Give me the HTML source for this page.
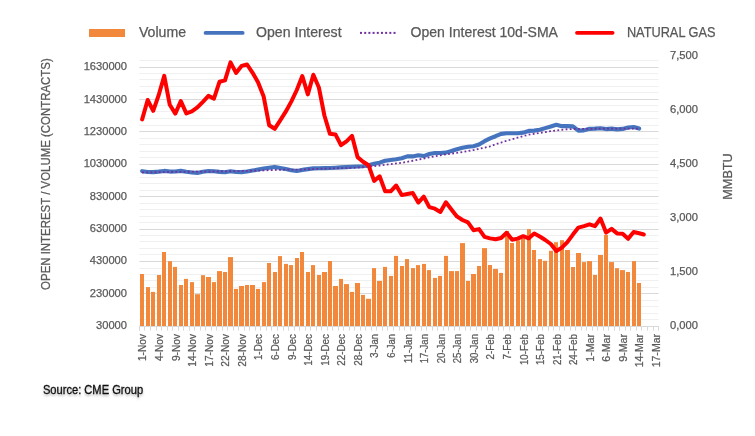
<!DOCTYPE html><html><head><meta charset="utf-8"><style>html,body{margin:0;padding:0;background:#fff;overflow:hidden;width:755px;height:436px;}svg{display:block;}text{font-family:"Liberation Sans", sans-serif;stroke:#595959;stroke-width:0.25px;}svg{will-change:transform;}</style></head><body>
<svg width="755" height="436" viewBox="0 0 755 436">
<defs><filter id="sh" x="-10%" y="-40%" width="120%" height="200%"><feDropShadow dx="0" dy="1.8" stdDeviation="1.3" flood-color="#000" flood-opacity="0.28"/></filter></defs>
<rect width="755" height="436" fill="#fff"/>
<line x1="139.4" y1="319.50" x2="658.5" y2="319.50" stroke="#F0F0F0" stroke-width="1"/>
<line x1="139.4" y1="313.50" x2="658.5" y2="313.50" stroke="#F0F0F0" stroke-width="1"/>
<line x1="139.4" y1="306.50" x2="658.5" y2="306.50" stroke="#F0F0F0" stroke-width="1"/>
<line x1="139.4" y1="300.50" x2="658.5" y2="300.50" stroke="#F0F0F0" stroke-width="1"/>
<line x1="139.4" y1="293.50" x2="658.5" y2="293.50" stroke="#D9D9D9" stroke-width="1"/>
<line x1="139.4" y1="287.50" x2="658.5" y2="287.50" stroke="#F0F0F0" stroke-width="1"/>
<line x1="139.4" y1="280.50" x2="658.5" y2="280.50" stroke="#F0F0F0" stroke-width="1"/>
<line x1="139.4" y1="274.50" x2="658.5" y2="274.50" stroke="#F0F0F0" stroke-width="1"/>
<line x1="139.4" y1="268.50" x2="658.5" y2="268.50" stroke="#F0F0F0" stroke-width="1"/>
<line x1="139.4" y1="261.50" x2="658.5" y2="261.50" stroke="#D9D9D9" stroke-width="1"/>
<line x1="139.4" y1="254.50" x2="658.5" y2="254.50" stroke="#F0F0F0" stroke-width="1"/>
<line x1="139.4" y1="248.50" x2="658.5" y2="248.50" stroke="#F0F0F0" stroke-width="1"/>
<line x1="139.4" y1="241.50" x2="658.5" y2="241.50" stroke="#F0F0F0" stroke-width="1"/>
<line x1="139.4" y1="235.50" x2="658.5" y2="235.50" stroke="#F0F0F0" stroke-width="1"/>
<line x1="139.4" y1="229.50" x2="658.5" y2="229.50" stroke="#D9D9D9" stroke-width="1"/>
<line x1="139.4" y1="222.50" x2="658.5" y2="222.50" stroke="#F0F0F0" stroke-width="1"/>
<line x1="139.4" y1="216.50" x2="658.5" y2="216.50" stroke="#F0F0F0" stroke-width="1"/>
<line x1="139.4" y1="209.50" x2="658.5" y2="209.50" stroke="#F0F0F0" stroke-width="1"/>
<line x1="139.4" y1="203.50" x2="658.5" y2="203.50" stroke="#F0F0F0" stroke-width="1"/>
<line x1="139.4" y1="196.50" x2="658.5" y2="196.50" stroke="#D9D9D9" stroke-width="1"/>
<line x1="139.4" y1="190.50" x2="658.5" y2="190.50" stroke="#F0F0F0" stroke-width="1"/>
<line x1="139.4" y1="183.50" x2="658.5" y2="183.50" stroke="#F0F0F0" stroke-width="1"/>
<line x1="139.4" y1="177.50" x2="658.5" y2="177.50" stroke="#F0F0F0" stroke-width="1"/>
<line x1="139.4" y1="170.50" x2="658.5" y2="170.50" stroke="#F0F0F0" stroke-width="1"/>
<line x1="139.4" y1="164.50" x2="658.5" y2="164.50" stroke="#D9D9D9" stroke-width="1"/>
<line x1="139.4" y1="157.50" x2="658.5" y2="157.50" stroke="#F0F0F0" stroke-width="1"/>
<line x1="139.4" y1="151.50" x2="658.5" y2="151.50" stroke="#F0F0F0" stroke-width="1"/>
<line x1="139.4" y1="144.50" x2="658.5" y2="144.50" stroke="#F0F0F0" stroke-width="1"/>
<line x1="139.4" y1="138.50" x2="658.5" y2="138.50" stroke="#F0F0F0" stroke-width="1"/>
<line x1="139.4" y1="131.50" x2="658.5" y2="131.50" stroke="#D9D9D9" stroke-width="1"/>
<line x1="139.4" y1="125.50" x2="658.5" y2="125.50" stroke="#F0F0F0" stroke-width="1"/>
<line x1="139.4" y1="118.50" x2="658.5" y2="118.50" stroke="#F0F0F0" stroke-width="1"/>
<line x1="139.4" y1="111.50" x2="658.5" y2="111.50" stroke="#F0F0F0" stroke-width="1"/>
<line x1="139.4" y1="105.50" x2="658.5" y2="105.50" stroke="#F0F0F0" stroke-width="1"/>
<line x1="139.4" y1="99.50" x2="658.5" y2="99.50" stroke="#D9D9D9" stroke-width="1"/>
<line x1="139.4" y1="92.50" x2="658.5" y2="92.50" stroke="#F0F0F0" stroke-width="1"/>
<line x1="139.4" y1="86.50" x2="658.5" y2="86.50" stroke="#F0F0F0" stroke-width="1"/>
<line x1="139.4" y1="79.50" x2="658.5" y2="79.50" stroke="#F0F0F0" stroke-width="1"/>
<line x1="139.4" y1="73.50" x2="658.5" y2="73.50" stroke="#F0F0F0" stroke-width="1"/>
<line x1="139.4" y1="67.50" x2="658.5" y2="67.50" stroke="#D9D9D9" stroke-width="1"/>
<line x1="139.4" y1="60.50" x2="658.5" y2="60.50" stroke="#F0F0F0" stroke-width="1"/>
<rect x="140" y="274.00" width="4" height="52.00" fill="#F1883B"/>
<rect x="146" y="287.10" width="4" height="38.90" fill="#F1883B"/>
<rect x="151" y="291.90" width="4" height="34.10" fill="#F1883B"/>
<rect x="157" y="275.00" width="4" height="51.00" fill="#F1883B"/>
<rect x="162" y="252.00" width="4" height="74.00" fill="#F1883B"/>
<rect x="168" y="261.20" width="4" height="64.80" fill="#F1883B"/>
<rect x="173" y="266.90" width="4" height="59.10" fill="#F1883B"/>
<rect x="179" y="285.00" width="4" height="41.00" fill="#F1883B"/>
<rect x="184" y="278.90" width="4" height="47.10" fill="#F1883B"/>
<rect x="190" y="282.10" width="4" height="43.90" fill="#F1883B"/>
<rect x="195" y="294.20" width="5" height="31.80" fill="#F1883B"/>
<rect x="201" y="275.20" width="4" height="50.80" fill="#F1883B"/>
<rect x="206" y="277.00" width="5" height="49.00" fill="#F1883B"/>
<rect x="212" y="282.10" width="4" height="43.90" fill="#F1883B"/>
<rect x="217" y="271.10" width="5" height="54.90" fill="#F1883B"/>
<rect x="223" y="272.00" width="4" height="54.00" fill="#F1883B"/>
<rect x="228" y="257.10" width="5" height="68.90" fill="#F1883B"/>
<rect x="234" y="288.90" width="4" height="37.10" fill="#F1883B"/>
<rect x="239" y="286.00" width="5" height="40.00" fill="#F1883B"/>
<rect x="245" y="285.00" width="4" height="41.00" fill="#F1883B"/>
<rect x="250" y="285.00" width="5" height="41.00" fill="#F1883B"/>
<rect x="256" y="288.90" width="4" height="37.10" fill="#F1883B"/>
<rect x="262" y="282.10" width="4" height="43.90" fill="#F1883B"/>
<rect x="267" y="263.00" width="4" height="63.00" fill="#F1883B"/>
<rect x="273" y="272.00" width="4" height="54.00" fill="#F1883B"/>
<rect x="278" y="256.10" width="4" height="69.90" fill="#F1883B"/>
<rect x="284" y="263.90" width="4" height="62.10" fill="#F1883B"/>
<rect x="289" y="265.10" width="4" height="60.90" fill="#F1883B"/>
<rect x="295" y="258.00" width="4" height="68.00" fill="#F1883B"/>
<rect x="300" y="252.00" width="4" height="74.00" fill="#F1883B"/>
<rect x="306" y="272.00" width="4" height="54.00" fill="#F1883B"/>
<rect x="311" y="265.10" width="4" height="60.90" fill="#F1883B"/>
<rect x="317" y="275.00" width="4" height="51.00" fill="#F1883B"/>
<rect x="322" y="272.00" width="5" height="54.00" fill="#F1883B"/>
<rect x="328" y="261.00" width="4" height="65.00" fill="#F1883B"/>
<rect x="333" y="286.00" width="5" height="40.00" fill="#F1883B"/>
<rect x="339" y="278.90" width="4" height="47.10" fill="#F1883B"/>
<rect x="344" y="284.10" width="5" height="41.90" fill="#F1883B"/>
<rect x="350" y="291.90" width="4" height="34.10" fill="#F1883B"/>
<rect x="355" y="283.00" width="5" height="43.00" fill="#F1883B"/>
<rect x="361" y="294.90" width="4" height="31.10" fill="#F1883B"/>
<rect x="366" y="298.80" width="5" height="27.20" fill="#F1883B"/>
<rect x="372" y="268.10" width="4" height="57.90" fill="#F1883B"/>
<rect x="377" y="280.90" width="5" height="45.10" fill="#F1883B"/>
<rect x="383" y="266.90" width="4" height="59.10" fill="#F1883B"/>
<rect x="389" y="275.90" width="4" height="50.10" fill="#F1883B"/>
<rect x="394" y="255.90" width="4" height="70.10" fill="#F1883B"/>
<rect x="400" y="266.00" width="4" height="60.00" fill="#F1883B"/>
<rect x="405" y="259.10" width="4" height="66.90" fill="#F1883B"/>
<rect x="411" y="268.10" width="4" height="57.90" fill="#F1883B"/>
<rect x="416" y="265.10" width="4" height="60.90" fill="#F1883B"/>
<rect x="422" y="263.90" width="4" height="62.10" fill="#F1883B"/>
<rect x="427" y="270.10" width="4" height="55.90" fill="#F1883B"/>
<rect x="433" y="277.90" width="4" height="48.10" fill="#F1883B"/>
<rect x="438" y="275.90" width="4" height="50.10" fill="#F1883B"/>
<rect x="444" y="255.90" width="4" height="70.10" fill="#F1883B"/>
<rect x="449" y="271.10" width="5" height="54.90" fill="#F1883B"/>
<rect x="455" y="271.10" width="4" height="54.90" fill="#F1883B"/>
<rect x="460" y="243.10" width="5" height="82.90" fill="#F1883B"/>
<rect x="466" y="280.90" width="4" height="45.10" fill="#F1883B"/>
<rect x="471" y="274.00" width="5" height="52.00" fill="#F1883B"/>
<rect x="477" y="266.00" width="4" height="60.00" fill="#F1883B"/>
<rect x="482" y="248.10" width="5" height="77.90" fill="#F1883B"/>
<rect x="488" y="265.00" width="4" height="61.00" fill="#F1883B"/>
<rect x="493" y="268.90" width="5" height="57.10" fill="#F1883B"/>
<rect x="499" y="272.90" width="4" height="53.10" fill="#F1883B"/>
<rect x="505" y="230.90" width="4" height="95.10" fill="#F1883B"/>
<rect x="510" y="243.00" width="4" height="83.00" fill="#F1883B"/>
<rect x="516" y="240.40" width="4" height="85.60" fill="#F1883B"/>
<rect x="521" y="238.30" width="4" height="87.70" fill="#F1883B"/>
<rect x="527" y="229.10" width="4" height="96.90" fill="#F1883B"/>
<rect x="532" y="250.00" width="4" height="76.00" fill="#F1883B"/>
<rect x="538" y="259.10" width="4" height="66.90" fill="#F1883B"/>
<rect x="543" y="260.80" width="4" height="65.20" fill="#F1883B"/>
<rect x="549" y="250.80" width="4" height="75.20" fill="#F1883B"/>
<rect x="554" y="242.20" width="4" height="83.80" fill="#F1883B"/>
<rect x="560" y="240.20" width="4" height="85.80" fill="#F1883B"/>
<rect x="565" y="250.00" width="5" height="76.00" fill="#F1883B"/>
<rect x="571" y="267.00" width="4" height="59.00" fill="#F1883B"/>
<rect x="576" y="253.00" width="5" height="73.00" fill="#F1883B"/>
<rect x="582" y="262.10" width="4" height="63.90" fill="#F1883B"/>
<rect x="587" y="261.10" width="5" height="64.90" fill="#F1883B"/>
<rect x="593" y="274.90" width="4" height="51.10" fill="#F1883B"/>
<rect x="598" y="255.00" width="5" height="71.00" fill="#F1883B"/>
<rect x="604" y="235.00" width="4" height="91.00" fill="#F1883B"/>
<rect x="609" y="262.10" width="5" height="63.90" fill="#F1883B"/>
<rect x="615" y="268.20" width="4" height="57.80" fill="#F1883B"/>
<rect x="620" y="270.10" width="5" height="55.90" fill="#F1883B"/>
<rect x="626" y="272.00" width="4" height="54.00" fill="#F1883B"/>
<rect x="632" y="261.10" width="4" height="64.90" fill="#F1883B"/>
<rect x="637" y="283.00" width="4" height="43.00" fill="#F1883B"/>
<line x1="139.4" y1="326.5" x2="658.5" y2="326.5" stroke="#D9D9D9" stroke-width="1"/>
<path d="M139.5 326V330.6M144.5 326V330.6M150.5 326V330.6M156.5 326V330.6M161.5 326V330.6M167.5 326V330.6M172.5 326V330.6M178.5 326V330.6M183.5 326V330.6M189.5 326V330.6M194.5 326V330.6M200.5 326V330.6M205.5 326V330.6M211.5 326V330.6M216.5 326V330.6M222.5 326V330.6M227.5 326V330.6M233.5 326V330.6M238.5 326V330.6M244.5 326V330.6M249.5 326V330.6M255.5 326V330.6M260.5 326V330.6M266.5 326V330.6M271.5 326V330.6M277.5 326V330.6M283.5 326V330.6M288.5 326V330.6M294.5 326V330.6M299.5 326V330.6M305.5 326V330.6M310.5 326V330.6M316.5 326V330.6M321.5 326V330.6M327.5 326V330.6M332.5 326V330.6M338.5 326V330.6M343.5 326V330.6M349.5 326V330.6M354.5 326V330.6M360.5 326V330.6M365.5 326V330.6M371.5 326V330.6M376.5 326V330.6M382.5 326V330.6M387.5 326V330.6M393.5 326V330.6M399.5 326V330.6M404.5 326V330.6M410.5 326V330.6M415.5 326V330.6M421.5 326V330.6M426.5 326V330.6M432.5 326V330.6M437.5 326V330.6M443.5 326V330.6M448.5 326V330.6M454.5 326V330.6M459.5 326V330.6M465.5 326V330.6M470.5 326V330.6M476.5 326V330.6M481.5 326V330.6M487.5 326V330.6M492.5 326V330.6M498.5 326V330.6M503.5 326V330.6M509.5 326V330.6M514.5 326V330.6M520.5 326V330.6M526.5 326V330.6M531.5 326V330.6M537.5 326V330.6M542.5 326V330.6M548.5 326V330.6M553.5 326V330.6M559.5 326V330.6M564.5 326V330.6M570.5 326V330.6M575.5 326V330.6M581.5 326V330.6M586.5 326V330.6M592.5 326V330.6M597.5 326V330.6M603.5 326V330.6M608.5 326V330.6M614.5 326V330.6M619.5 326V330.6M625.5 326V330.6M630.5 326V330.6M636.5 326V330.6M641.5 326V330.6M647.5 326V330.6M653.5 326V330.6M658.5 326V330.6" stroke="#D9D9D9" stroke-width="1" fill="none"/>
<polyline points="142.16,171.17 147.68,172.00 153.21,172.15 158.73,171.61 164.25,170.91 169.77,171.58 175.30,171.50 180.82,170.87 186.34,171.83 191.86,172.55 197.38,172.90 202.91,171.78 208.43,170.99 213.95,171.27 219.47,171.87 225.00,172.30 230.52,171.20 236.04,172.00 241.56,172.11 247.09,171.54 252.61,170.60 258.13,169.56 263.65,168.57 269.18,167.68 274.70,166.92 280.22,167.90 285.74,168.99 291.26,170.19 296.79,171.01 302.31,169.89 307.83,169.14 313.35,168.40 318.88,168.27 324.40,168.15 329.92,167.94 335.44,167.69 340.97,167.42 346.49,167.09 352.01,166.76 357.53,166.47 363.05,166.19 368.58,165.15 374.10,163.85 379.62,162.66 385.14,160.73 390.67,159.98 396.19,159.19 401.71,158.22 407.23,156.42 412.76,156.40 418.28,155.20 423.80,156.08 429.32,154.03 434.85,153.01 440.37,153.00 445.89,152.61 451.41,151.03 456.93,149.22 462.46,147.81 467.98,146.82 473.50,146.21 479.02,144.52 484.55,141.13 490.07,138.37 495.59,136.24 501.11,133.84 506.64,133.21 512.16,133.20 517.68,133.20 523.20,132.61 528.73,130.92 534.25,130.61 539.77,129.82 545.29,128.13 550.81,126.43 556.34,124.82 561.86,126.16 567.38,126.10 572.90,126.39 578.43,130.64 583.95,130.40 589.47,128.84 594.99,128.60 600.52,128.21 606.04,129.09 611.56,128.60 617.08,129.38 622.60,128.91 628.13,127.52 633.65,127.00 639.17,128.56" fill="none" stroke="#4673BD" stroke-width="4.1" stroke-linejoin="round" stroke-linecap="round"/>
<polyline points="142.16,172.49 147.68,172.39 153.21,172.30 158.73,172.20 164.25,172.10 169.77,172.00 175.30,171.93 180.82,171.86 186.34,171.79 191.86,171.71 197.38,171.66 202.91,171.61 208.43,171.57 213.95,171.52 219.47,171.44 225.00,171.34 230.52,171.25 236.04,171.15 241.56,171.03 247.09,170.89 252.61,170.75 258.13,170.61 263.65,170.45 269.18,170.17 274.70,169.90 280.22,169.81 285.74,169.71 291.26,169.66 296.79,169.62 302.31,169.50 307.83,169.27 313.35,169.05 318.88,168.82 324.40,168.59 329.92,168.42 335.44,168.30 340.97,168.17 346.49,168.05 352.01,167.92 357.53,167.59 363.05,167.20 368.58,166.73 374.10,166.16 379.62,165.58 385.14,164.87 390.67,164.16 396.19,163.48 401.71,162.81 407.23,161.79 412.76,160.75 418.28,159.62 423.80,158.50 429.32,157.40 434.85,156.29 440.37,155.33 445.89,154.40 451.41,153.60 456.93,152.86 462.46,152.02 467.98,151.09 473.50,150.05 479.02,148.79 484.55,147.57 490.07,146.35 495.59,144.27 501.11,142.54 506.64,140.86 512.16,139.20 517.68,137.54 523.20,136.10 528.73,134.72 534.25,133.76 539.77,132.93 545.29,132.03 550.81,131.10 556.34,130.43 561.86,129.89 567.38,129.26 572.90,128.97 578.43,128.91 583.95,128.86 589.47,128.81 594.99,128.75 600.52,128.70 606.04,128.67 611.56,128.64 617.08,128.61 622.60,128.60 628.13,128.60 633.65,128.60 639.17,128.60" fill="none" stroke="#7030A0" stroke-width="1.8" stroke-dasharray="1.8 2.35" />
<polyline points="142.16,119.40 147.68,100.00 153.21,110.80 158.73,95.00 164.25,75.90 169.77,104.80 175.30,113.60 180.82,101.10 186.34,113.40 191.86,111.40 197.38,107.40 202.91,101.80 208.43,95.90 213.95,98.60 219.47,81.80 225.00,80.40 230.52,62.30 236.04,72.90 241.56,65.90 247.09,64.50 252.61,72.80 258.13,82.50 263.65,96.50 269.18,125.30 274.70,128.80 280.22,120.30 285.74,111.70 291.26,101.60 296.79,90.00 302.31,76.10 307.83,94.40 313.35,74.80 318.88,87.50 324.40,115.50 329.92,133.80 335.44,134.40 340.97,145.20 346.49,141.30 352.01,135.80 357.53,157.10 363.05,161.70 368.58,165.30 374.10,180.90 379.62,176.30 385.14,191.30 390.67,191.30 396.19,185.50 401.71,195.10 407.23,194.00 412.76,193.00 418.28,202.60 423.80,196.70 429.32,207.10 434.85,208.70 440.37,211.90 445.89,202.30 451.41,209.50 456.93,216.40 462.46,220.00 467.98,222.40 473.50,230.20 479.02,229.10 484.55,236.90 490.07,238.40 495.59,239.30 501.11,238.00 506.64,232.80 512.16,239.70 517.68,238.60 523.20,236.20 528.73,238.30 534.25,233.50 539.77,236.50 545.29,240.00 550.81,244.00 556.34,251.00 561.86,247.60 567.38,242.10 572.90,234.60 578.43,227.60 583.95,226.10 589.47,224.30 594.99,226.20 600.52,218.50 606.04,232.60 611.56,228.90 617.08,233.40 622.60,233.70 628.13,238.80 633.65,232.00 639.17,233.20 643.80,234.50" fill="none" stroke="#FF0000" stroke-width="4" stroke-linejoin="round" stroke-linecap="round"/>
<text x="127.0" y="329.10" font-size="11.15" fill="#595959" text-anchor="end">30000</text>
<text x="127.0" y="296.75" font-size="11.15" fill="#595959" text-anchor="end">230000</text>
<text x="127.0" y="264.41" font-size="11.15" fill="#595959" text-anchor="end">430000</text>
<text x="127.0" y="232.06" font-size="11.15" fill="#595959" text-anchor="end">630000</text>
<text x="127.0" y="199.71" font-size="11.15" fill="#595959" text-anchor="end">830000</text>
<text x="127.0" y="167.36" font-size="11.15" fill="#595959" text-anchor="end">1030000</text>
<text x="127.0" y="135.02" font-size="11.15" fill="#595959" text-anchor="end">1230000</text>
<text x="127.0" y="102.67" font-size="11.15" fill="#595959" text-anchor="end">1430000</text>
<text x="127.0" y="70.32" font-size="11.15" fill="#595959" text-anchor="end">1630000</text>
<text x="670.0" y="329.10" font-size="11.2" fill="#595959">0,000</text>
<text x="670.0" y="275.08" font-size="11.2" fill="#595959">1,500</text>
<text x="670.0" y="221.06" font-size="11.2" fill="#595959">3,000</text>
<text x="670.0" y="167.04" font-size="11.2" fill="#595959">4,500</text>
<text x="670.0" y="113.02" font-size="11.2" fill="#595959">6,000</text>
<text x="670.0" y="59.00" font-size="11.2" fill="#595959">7,500</text>
<text transform="translate(146.46,334.0) rotate(-90)" font-size="10.4" fill="#595959" text-anchor="end" textLength="27.06" lengthAdjust="spacingAndGlyphs">1-Nov</text>
<text transform="translate(163.03,334.0) rotate(-90)" font-size="10.4" fill="#595959" text-anchor="end" textLength="27.06" lengthAdjust="spacingAndGlyphs">4-Nov</text>
<text transform="translate(179.60,334.0) rotate(-90)" font-size="10.4" fill="#595959" text-anchor="end" textLength="27.06" lengthAdjust="spacingAndGlyphs">9-Nov</text>
<text transform="translate(196.16,334.0) rotate(-90)" font-size="10.4" fill="#595959" text-anchor="end" textLength="32.69" lengthAdjust="spacingAndGlyphs">14-Nov</text>
<text transform="translate(212.73,334.0) rotate(-90)" font-size="10.4" fill="#595959" text-anchor="end" textLength="32.69" lengthAdjust="spacingAndGlyphs">17-Nov</text>
<text transform="translate(229.30,334.0) rotate(-90)" font-size="10.4" fill="#595959" text-anchor="end" textLength="32.69" lengthAdjust="spacingAndGlyphs">22-Nov</text>
<text transform="translate(245.86,334.0) rotate(-90)" font-size="10.4" fill="#595959" text-anchor="end" textLength="32.69" lengthAdjust="spacingAndGlyphs">28-Nov</text>
<text transform="translate(262.43,334.0) rotate(-90)" font-size="10.4" fill="#595959" text-anchor="end" textLength="26.07" lengthAdjust="spacingAndGlyphs">1-Dec</text>
<text transform="translate(279.00,334.0) rotate(-90)" font-size="10.4" fill="#595959" text-anchor="end" textLength="26.07" lengthAdjust="spacingAndGlyphs">6-Dec</text>
<text transform="translate(295.56,334.0) rotate(-90)" font-size="10.4" fill="#595959" text-anchor="end" textLength="26.07" lengthAdjust="spacingAndGlyphs">9-Dec</text>
<text transform="translate(312.13,334.0) rotate(-90)" font-size="10.4" fill="#595959" text-anchor="end" textLength="31.70" lengthAdjust="spacingAndGlyphs">14-Dec</text>
<text transform="translate(328.70,334.0) rotate(-90)" font-size="10.4" fill="#595959" text-anchor="end" textLength="31.70" lengthAdjust="spacingAndGlyphs">19-Dec</text>
<text transform="translate(345.27,334.0) rotate(-90)" font-size="10.4" fill="#595959" text-anchor="end" textLength="31.70" lengthAdjust="spacingAndGlyphs">22-Dec</text>
<text transform="translate(361.83,334.0) rotate(-90)" font-size="10.4" fill="#595959" text-anchor="end" textLength="31.70" lengthAdjust="spacingAndGlyphs">28-Dec</text>
<text transform="translate(378.40,334.0) rotate(-90)" font-size="10.4" fill="#595959" text-anchor="end" textLength="23.71" lengthAdjust="spacingAndGlyphs">3-Jan</text>
<text transform="translate(394.97,334.0) rotate(-90)" font-size="10.4" fill="#595959" text-anchor="end" textLength="23.71" lengthAdjust="spacingAndGlyphs">6-Jan</text>
<text transform="translate(411.53,334.0) rotate(-90)" font-size="10.4" fill="#595959" text-anchor="end" textLength="29.34" lengthAdjust="spacingAndGlyphs">11-Jan</text>
<text transform="translate(428.10,334.0) rotate(-90)" font-size="10.4" fill="#595959" text-anchor="end" textLength="29.34" lengthAdjust="spacingAndGlyphs">17-Jan</text>
<text transform="translate(444.67,334.0) rotate(-90)" font-size="10.4" fill="#595959" text-anchor="end" textLength="29.34" lengthAdjust="spacingAndGlyphs">20-Jan</text>
<text transform="translate(461.23,334.0) rotate(-90)" font-size="10.4" fill="#595959" text-anchor="end" textLength="29.34" lengthAdjust="spacingAndGlyphs">25-Jan</text>
<text transform="translate(477.80,334.0) rotate(-90)" font-size="10.4" fill="#595959" text-anchor="end" textLength="29.34" lengthAdjust="spacingAndGlyphs">30-Jan</text>
<text transform="translate(494.37,334.0) rotate(-90)" font-size="10.4" fill="#595959" text-anchor="end" textLength="25.47" lengthAdjust="spacingAndGlyphs">2-Feb</text>
<text transform="translate(510.94,334.0) rotate(-90)" font-size="10.4" fill="#595959" text-anchor="end" textLength="25.47" lengthAdjust="spacingAndGlyphs">7-Feb</text>
<text transform="translate(527.50,334.0) rotate(-90)" font-size="10.4" fill="#595959" text-anchor="end" textLength="31.10" lengthAdjust="spacingAndGlyphs">10-Feb</text>
<text transform="translate(544.07,334.0) rotate(-90)" font-size="10.4" fill="#595959" text-anchor="end" textLength="31.10" lengthAdjust="spacingAndGlyphs">15-Feb</text>
<text transform="translate(560.64,334.0) rotate(-90)" font-size="10.4" fill="#595959" text-anchor="end" textLength="31.10" lengthAdjust="spacingAndGlyphs">21-Feb</text>
<text transform="translate(577.20,334.0) rotate(-90)" font-size="10.4" fill="#595959" text-anchor="end" textLength="31.10" lengthAdjust="spacingAndGlyphs">24-Feb</text>
<text transform="translate(593.77,334.0) rotate(-90)" font-size="10.4" fill="#595959" text-anchor="end" textLength="27.71" lengthAdjust="spacingAndGlyphs">1-Mar</text>
<text transform="translate(610.34,334.0) rotate(-90)" font-size="10.4" fill="#595959" text-anchor="end" textLength="27.71" lengthAdjust="spacingAndGlyphs">6-Mar</text>
<text transform="translate(626.90,334.0) rotate(-90)" font-size="10.4" fill="#595959" text-anchor="end" textLength="27.71" lengthAdjust="spacingAndGlyphs">9-Mar</text>
<text transform="translate(643.47,334.0) rotate(-90)" font-size="10.4" fill="#595959" text-anchor="end" textLength="33.33" lengthAdjust="spacingAndGlyphs">14-Mar</text>
<text transform="translate(660.04,334.0) rotate(-90)" font-size="10.4" fill="#595959" text-anchor="end" textLength="33.33" lengthAdjust="spacingAndGlyphs">17-Mar</text>
<text transform="translate(50.1,174.05) rotate(-90)" font-size="12.1" fill="#595959" text-anchor="middle" textLength="231.7" lengthAdjust="spacingAndGlyphs">OPEN INTEREST / VOLUME (CONTRACTS)</text>
<text transform="translate(731.8,176.5) rotate(-90)" font-size="12.1" fill="#595959" text-anchor="middle" textLength="46.5" lengthAdjust="spacingAndGlyphs">MMBTU</text>
<rect x="89" y="29" width="36" height="8" fill="#F1883B"/>
<text x="138.9" y="37.0" font-size="13.8" fill="#595959" textLength="47.2" lengthAdjust="spacingAndGlyphs">Volume</text>
<line x1="205.6" y1="32.9" x2="242.6" y2="32.9" stroke="#4673BD" stroke-width="3.9" stroke-linecap="round"/>
<text x="256.0" y="37.0" font-size="13.8" fill="#595959" textLength="85.6" lengthAdjust="spacingAndGlyphs">Open Interest</text>
<rect x="360.00" y="31.9" width="2" height="2" fill="#7030A0"/><rect x="364.19" y="31.9" width="2" height="2" fill="#7030A0"/><rect x="368.38" y="31.9" width="2" height="2" fill="#7030A0"/><rect x="372.57" y="31.9" width="2" height="2" fill="#7030A0"/><rect x="376.76" y="31.9" width="2" height="2" fill="#7030A0"/><rect x="380.95" y="31.9" width="2" height="2" fill="#7030A0"/><rect x="385.14" y="31.9" width="2" height="2" fill="#7030A0"/><rect x="389.33" y="31.9" width="2" height="2" fill="#7030A0"/><rect x="393.52" y="31.9" width="2" height="2" fill="#7030A0"/>
<text x="410.6" y="37.0" font-size="13.8" fill="#595959" textLength="147.4" lengthAdjust="spacingAndGlyphs">Open Interest 10d-SMA</text>
<line x1="577" y1="32.8" x2="612.6" y2="32.8" stroke="#FF0000" stroke-width="3.8" stroke-linecap="round"/>
<text x="626.9" y="37.0" font-size="13.8" fill="#595959" textLength="88.6" lengthAdjust="spacingAndGlyphs">NATURAL GAS</text>
<text x="42.9" y="393.9" font-size="12" fill="#111" filter="url(#sh)" style="stroke:#111;stroke-width:0.3px" textLength="100.2" lengthAdjust="spacingAndGlyphs">Source: CME Group</text>
</svg></body></html>
